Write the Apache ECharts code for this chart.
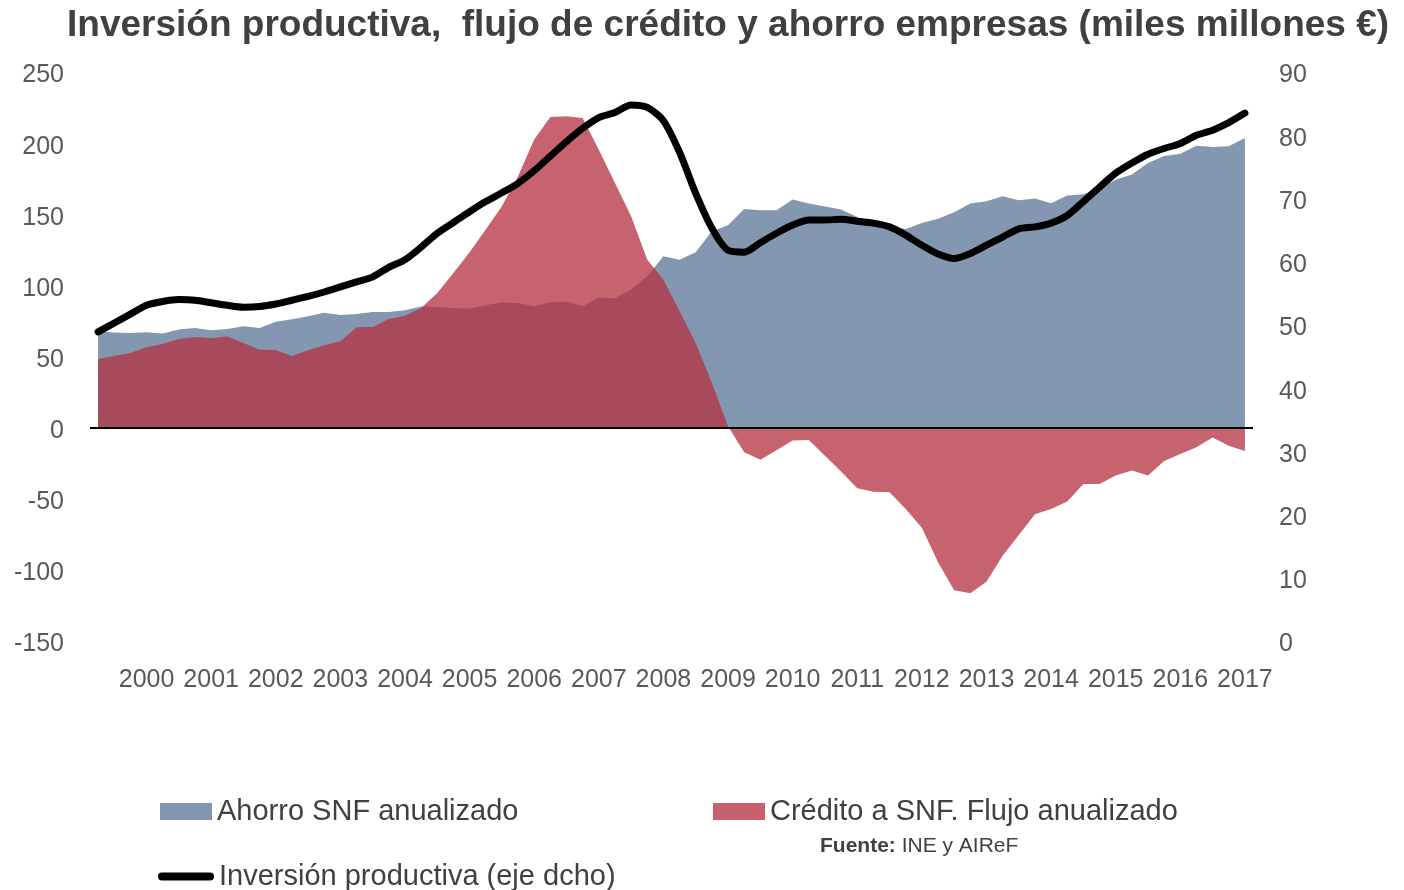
<!DOCTYPE html>
<html>
<head>
<meta charset="utf-8">
<script src="https://cdn.jsdelivr.net/npm/echarts@6/dist/echarts.min.js"></script>
<style>
  html, body { margin: 0; padding: 0; background: #fff; }
  #myEchartsInversion { width: 1404px; height: 890px; }
</style>
</head>
<body>
<div id="myEchartsInversion"></div>
<script>
// etiquetas del eje x (un año cada 4 trimestres)
const years = ["2000", "2001", "2002", "2003", "2004", "2005", "2006", "2007", "2008",
  "2009", "2010", "2011", "2012", "2013", "2014", "2015", "2016", "2017"];
const quarters = ["T1", "T2", "T3", "T4"];

// Ahorro SNF anualizado (eje izq.)
const ahorro = [
  67.7, 66.8, 66.5, 67.0, 66.1, 68.9, 70.1, 68.4, 69.4, 71.2, 70.1, 74.5,
  76.2, 78.3, 80.8, 79.2, 79.9, 81.3, 81.3, 82.5, 85.1, 84.8, 83.9, 83.7,
  86.0, 88.1, 87.6, 85.3, 88.1, 88.6, 85.3, 91.4, 90.9, 97.0, 106.4, 120.4,
  118.1, 123.3, 138.0, 142.2, 153.7, 152.8, 152.8, 160.3, 157.5, 155.4, 153.3, 148.1,
  144.3, 141.5, 139.7, 143.9, 146.9, 151.4, 157.5, 159.1, 162.6, 159.8, 161.0, 157.7,
  163.1, 164.0, 168.5, 174.3, 177.9, 186.1, 191.0, 192.6, 198.2, 197.3, 197.8, 203.6
];

// Crédito a SNF, flujo anualizado (eje izq.)
const credito = [
  48.3, 50.4, 52.5, 56.5, 58.8, 62.3, 63.7, 62.8, 64.2, 59.5, 54.8, 54.6,
  50.4, 54.4, 57.9, 60.7, 70.5, 70.7, 76.4, 78.7, 84.1, 94.7, 108.7, 123.3,
  139.2, 155.6, 176.7, 202.5, 218.4, 218.9, 217.7, 195.4, 172.0, 148.6, 118.1, 104.0,
  82.0, 59.5, 31.4, 1.0, -17.3, -22.5, -15.9, -9.1, -8.7, -19.7, -30.9, -42.6,
  -45.0, -45.5, -57.2, -70.3, -94.7, -114.4, -116.5, -108.3, -90.0, -75.5, -60.9, -57.2,
  -52.0, -39.6, -39.6, -33.7, -30.2, -33.7, -23.4, -18.5, -13.8, -7.0, -12.7, -16.4
];

// Inversión productiva (eje dcho.)
const inversion = [
  48.9, 50.3, 51.7, 53.1, 53.7, 54.0, 53.9, 53.5, 53.1, 52.8, 52.9, 53.3,
  53.9, 54.5, 55.2, 56.0, 56.8, 57.6, 59.1, 60.3, 62.3, 64.5, 66.2, 67.9,
  69.5, 70.9, 72.4, 74.4, 76.7, 79.0, 81.1, 82.8, 83.6, 84.8, 84.4, 82.3,
  77.3, 70.8, 65.3, 61.8, 61.5, 63.0, 64.5, 65.8, 66.6, 66.6, 66.7, 66.4,
  66.1, 65.5, 64.2, 62.6, 61.2, 60.5, 61.3, 62.6, 63.9, 65.2, 65.5, 66.1,
  67.3, 69.5, 71.8, 74.0, 75.6, 77.0, 77.9, 78.7, 80.0, 80.8, 82.0, 83.5
];

const categories = [];
years.forEach((y) => quarters.forEach((q) => categories.push(y + " " + q)));

const axisFont = "'Liberation Sans', Arial, sans-serif";

const legendBase = {
  orient: "horizontal",
  padding: 0,
  itemGap: 6,
  textStyle: { fontFamily: axisFont, fontSize: 29, color: "#404040" },
};

// 基于准备好的dom，初始化echarts实例
const myEcharts = echarts.init(document.getElementById("myEchartsInversion"));

myEcharts.setOption({
  animation: false,
  backgroundColor: "#fff",
  title: [
    {
      text: "Inversión productiva,  flujo de crédito y ahorro empresas (miles millones €)",
      left: 67,
      top: 7,
      padding: 0,
      textStyle: {
        fontFamily: axisFont,
        fontWeight: "bold",
        fontSize: 37,
        color: "#404040",
      },
    },
    {
      text: "{b|Fuente:} INE y AIReF",
      left: 820,
      top: 836,
      padding: 0,
      textStyle: {
        fontFamily: axisFont,
        fontSize: 21,
        fontWeight: "normal",
        color: "#404040",
        rich: {
          b: { fontFamily: axisFont, fontSize: 21, fontWeight: "bold", color: "#404040" },
        },
      },
    },
  ],
  legend: [
    Object.assign({}, legendBase, {
      left: 160,
      top: 797,
      icon: "rect",
      itemWidth: 52,
      itemHeight: 17,
      data: [{ name: "Ahorro SNF anualizado", itemStyle: { color: "#8497B0" } }],
    }),
    Object.assign({}, legendBase, {
      left: 713,
      top: 797,
      icon: "rect",
      itemWidth: 52,
      itemHeight: 17,
      data: [{ name: "Crédito a SNF. Flujo anualizado", itemStyle: { color: "#C6616D" } }],
    }),
    Object.assign({}, legendBase, {
      left: 158,
      top: 862,
      // línea gruesa con extremos redondeados
      icon: "path://M4,0 H52 A4,4 0 0 1 52,8 H4 A4,4 0 0 1 4,0 Z",
      itemWidth: 56,
      itemHeight: 8,
      data: [{ name: "Inversión productiva (eje dcho)", itemStyle: { color: "#000" } }],
    }),
  ],
  grid: {
    left: 90,
    right: 151,
    top: 72,
    bottom: 249,
  },
  xAxis: {
    type: "category",
    data: categories,
    boundaryGap: true,
    axisLine: { show: false },
    axisTick: { show: false },
    axisLabel: {
      interval: (index) => index % 4 === 3,
      formatter: (value) => value.slice(0, 4),
      margin: 27,
      fontFamily: axisFont,
      fontSize: 25,
      color: "#595959",
    },
    splitLine: { show: false },
  },
  yAxis: [
    {
      type: "value",
      min: -150,
      max: 250,
      interval: 50,
      axisLine: { show: false },
      axisTick: { show: false },
      splitLine: { show: false },
      axisLabel: {
        margin: 26,
        lineHeight: 29,
        verticalAlign: "top",
        padding: [-11, 0, 0, 0],
        fontFamily: axisFont,
        fontSize: 25,
        color: "#595959",
      },
    },
    {
      type: "value",
      min: 0,
      max: 90,
      interval: 10,
      axisLine: { show: false },
      axisTick: { show: false },
      splitLine: { show: false },
      axisLabel: {
        margin: 26,
        lineHeight: 29,
        verticalAlign: "top",
        padding: [-11, 0, 0, 0],
        fontFamily: axisFont,
        fontSize: 25,
        color: "#595959",
      },
    },
  ],
  series: [
    {
      name: "Ahorro SNF anualizado",
      type: "line",
      data: ahorro,
      symbol: "none",
      lineStyle: { width: 0 },
      itemStyle: { color: "#8497B0" },
      areaStyle: { color: "#8497B0", opacity: 1 },
      // línea del cero
      markLine: {
        silent: true,
        symbol: "none",
        label: { show: false },
        lineStyle: { color: "#000", width: 2, type: "solid" },
        data: [{ yAxis: 0 }],
      },
    },
    {
      name: "Crédito a SNF. Flujo anualizado",
      type: "line",
      data: credito,
      symbol: "none",
      lineStyle: { width: 0 },
      itemStyle: { color: "#C6616D" },
      areaStyle: { color: "rgb(180, 50, 65)", opacity: 0.76 },
    },
    {
      name: "Inversión productiva (eje dcho)",
      type: "line",
      yAxisIndex: 1,
      data: inversion,
      symbol: "none",
      smooth: 0.25,
      itemStyle: { color: "#000" },
      lineStyle: { color: "#000", width: 7, cap: "round", join: "round" },
      z: 4,
    },
  ],
});
</script>
</body>
</html>
